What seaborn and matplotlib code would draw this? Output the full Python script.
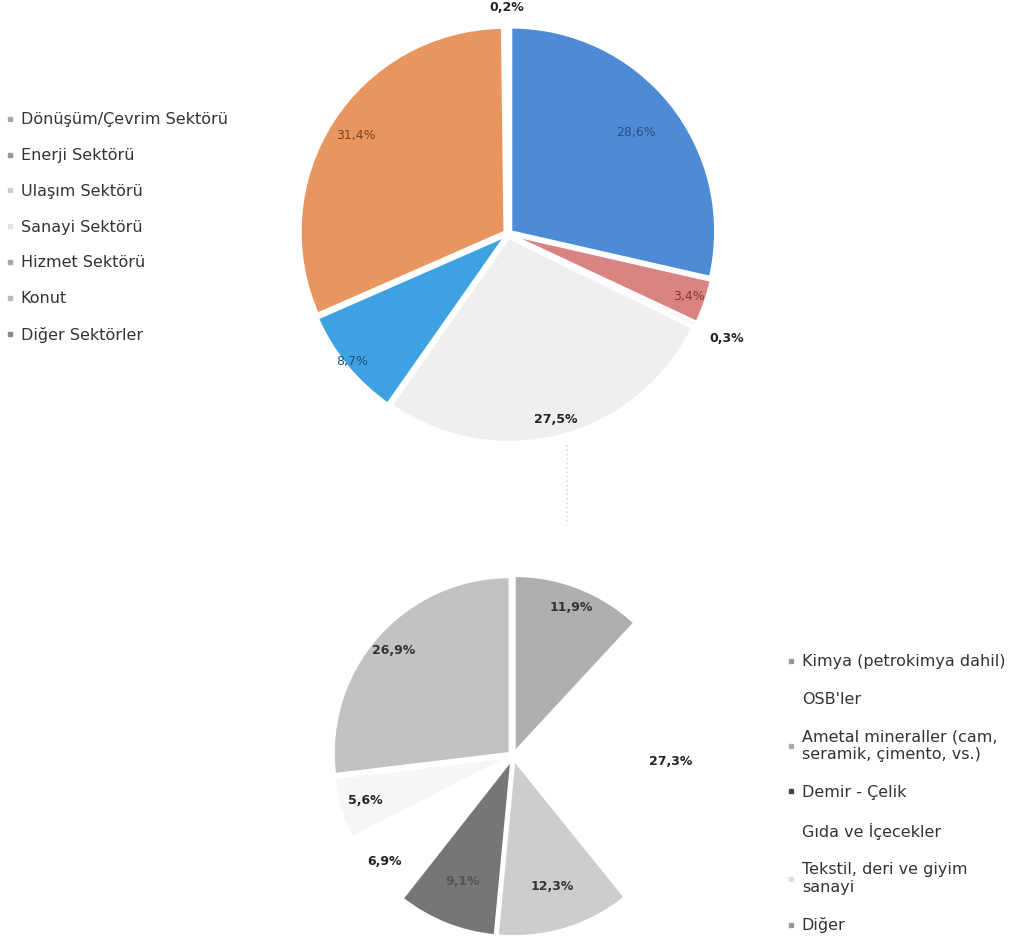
import matplotlib
matplotlib.use("Agg")
import matplotlib.pyplot as plt
from matplotlib.lines import Line2D
import numpy as np
import seaborn as sns

# ---- data -------------------------------------------------------------
sector_labels = [
    "Dönüşüm/Çevrim Sektörü",
    "Enerji Sektörü",
    "Ulaşım Sektörü",
    "Sanayi Sektörü",
    "Hizmet Sektörü",
    "Konut",
    "Diğer Sektörler",
]
sector_shares = [28.6, 3.4, 0.3, 27.5, 8.7, 31.4, 0.2]

industry_labels = [
    "Kimya (petrokimya dahil)",
    "OSB'ler",
    "Ametal mineraller (cam,\nseramik, çimento, vs.)",
    "Demir - Çelik",
    "Gıda ve İçecekler",
    "Tekstil, deri ve giyim\nsanayi",
    "Diğer",
]
industry_shares = [11.9, 27.3, 12.3, 9.1, 6.9, 5.6, 26.9]

# ---- styling ----------------------------------------------------------
sns.set_theme(style="white")
plt.rcParams["font.family"] = ["DejaVu Sans"]

sector_colors = ["#4d8bd6", "#d98383", "#f2f2f2", "#efefef", "#3ea2e2", "#e99560", "#f2f2f2"]
sector_text_colors = ["#2c4f80", "#8a3535", "#222222", "#222222", "#1f4f7a", "#7a4420", "#222222"]
sector_text_weight = ["normal", "normal", "bold", "bold", "normal", "normal", "bold"]
sector_label_dist = [0.78, 0.92, 1.17, 0.92, 0.97, 0.87, 1.09]
sector_marker_colors = ["#a8a8a8", "#9a9a9a", "#cccccc", "#e2e2e2", "#a8a8a8", "#bbbbbb", "#8a8a8a"]

industry_colors = ["#afafaf", "#ffffff", "#cdcdcd", "#767676", "#ffffff", "#f6f6f6", "#c2c2c2"]
industry_text_colors = ["#333333", "#222222", "#333333", "#555555", "#222222", "#222222", "#333333"]
industry_label_dist = [0.88, 0.87, 0.75, 0.74, 0.92, 0.85, 0.88]
industry_marker_colors = ["#999999", "#ffffff", "#aaaaaa", "#444444", "#ffffff", "#dddddd", "#999999"]

W, H = 1026, 943
fig = plt.figure(figsize=(W / 100, H / 100), dpi=100)
fig.patch.set_facecolor("white")

PAD = 1.3


def pie_axes(cx, cy, r):
    """Axes whose unit circle spans r pixels around (cx, cy), y measured from top."""
    return fig.add_axes([(cx - r * PAD) / W, 1 - (cy + r * PAD) / H,
                         2 * r * PAD / W, 2 * r * PAD / H])


def fmt(v):
    return f"{v:.1f}".replace(".", ",") + "%"


def draw_pie(ax, values, colors, dists, tcolors, weights, explode):
    wedges, _ = ax.pie(values, colors=colors, startangle=90, counterclock=False,
                       explode=[explode] * len(values), radius=1.0,
                       wedgeprops=dict(edgecolor="white", linewidth=1.6))
    # pie() resets the limits; pin them so the unit circle keeps its pixel size
    ax.set_xlim(-PAD, PAD)
    ax.set_ylim(-PAD, PAD)
    ax.set_axis_off()
    for w, v, d, c, fw in zip(wedges, values, dists, tcolors, weights):
        ang = np.deg2rad((w.theta1 + w.theta2) / 2)
        ox, oy = w.center
        ax.text(ox + d * np.cos(ang), oy + d * np.sin(ang), fmt(v),
                ha="center", va="center", fontsize=9, color=c, fontweight=fw)
    return wedges


# ---- upper pie: sectors -------------------------------------------------
ax_top = pie_axes(508, 234, 204)
draw_pie(ax_top, sector_shares, sector_colors, sector_label_dist,
         sector_text_colors, sector_text_weight, 0.02)

# ---- lower pie: industry breakdown -------------------------------------
ax_bot = pie_axes(513, 756, 176)
draw_pie(ax_bot, industry_shares, industry_colors, industry_label_dist,
         industry_text_colors, ["bold"] * len(industry_shares), 0.025)

# faint leader between the two pies
fig.add_artist(Line2D([567 / W, 567 / W], [1 - 445 / H, 1 - 525 / H],
                      color="#dddddd", lw=1.2, ls=":"))

# ---- legends ------------------------------------------------------------
def handles(colors):
    return [Line2D([], [], marker="s", ls="", markersize=3.5,
                   markerfacecolor=c, markeredgecolor=c) for c in colors]


leg1 = fig.legend(handles(sector_marker_colors), sector_labels,
                  loc="upper left", bbox_to_anchor=(0 / W, 1 - 106 / H),
                  frameon=False, fontsize=11.5, labelspacing=1.3,
                  handlelength=0.45, handletextpad=0.45, borderaxespad=0,
                  labelcolor="#333333")

leg2 = fig.legend(handles(industry_marker_colors), industry_labels,
                  loc="upper left", bbox_to_anchor=(781 / W, 1 - 648 / H),
                  frameon=False, fontsize=11.5, labelspacing=1.42,
                  handlelength=0.45, handletextpad=0.45, borderaxespad=0,
                  labelcolor="#333333")

fig.savefig("out.png", dpi=100, facecolor="white")
